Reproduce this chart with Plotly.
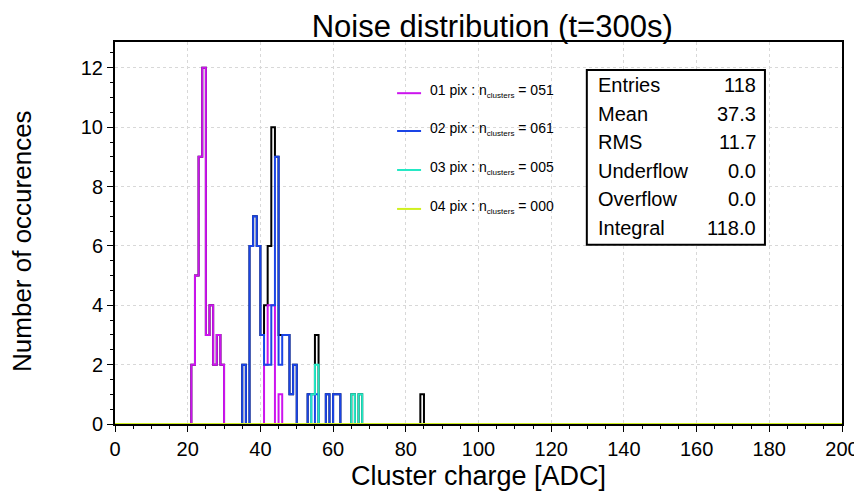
import numpy as np
import plotly.graph_objects as go

# histogram contents, bins of 1 ADC on [0, 200)
tot_bins = [21, 22, 23, 24, 25, 26, 27, 28, 29, 35, 37, 38, 39, 40, 41, 42, 43, 44, 45, 46, 47, 48, 49, 53, 54, 55, 58, 60, 61, 65, 67, 84]
tot_counts = [2, 5, 9, 12, 3, 4, 2, 3, 2, 2, 6, 7, 6, 3, 4, 6, 10, 9, 3, 3, 3, 1, 2, 1, 1, 3, 1, 1, 1, 1, 1, 1]

pix1_bins = [21, 22, 23, 24, 25, 26, 27, 28, 29, 41, 42, 43, 45]
pix1_counts = [2, 5, 9, 12, 3, 4, 2, 3, 2, 2, 4, 4, 1]

pix2_bins = [35, 37, 38, 39, 40, 41, 42, 43, 44, 45, 46, 47, 48, 49, 53, 55, 58, 60, 61]
pix2_counts = [2, 6, 7, 6, 3, 2, 2, 4, 9, 2, 3, 3, 1, 2, 1, 1, 1, 1, 1]

pix3_bins = [54, 55, 65, 67]
pix3_counts = [1, 2, 1, 1]

pix4_bins = []
pix4_counts = []

SUB = '<sub><span style="font-size:8px">clusters</span></sub>'
legend_labels = ["01 pix : n" + SUB + " = 051", "02 pix : n" + SUB + " = 061",
                 "03 pix : n" + SUB + " = 005", "04 pix : n" + SUB + " = 000"]
stat_names = ["Entries", "Mean", "RMS", "Underflow", "Overflow", "Integral"]
stat_values = ["118", "37.3", "11.7", "0.0", "0.0", "118.0"]

colors = ["#cc14ee", "#1a44e6", "#22e8c4", "#d0f020"]
FONT = "Liberation Sans, Arial, sans-serif"

edges = np.arange(0, 201)


def step_trace(bins, counts, color, width=2):
    h = np.zeros(200)
    for b, c in zip(bins, counts):
        h[b] = c
    y = np.append(h, h[-1])
    return go.Scatter(x=edges, y=y, mode="lines", line=dict(color=color, width=width, shape="hv"),
                      showlegend=False, hoverinfo="skip")


fig = go.Figure()
fig.add_trace(step_trace(tot_bins, tot_counts, "black"))
for (b, c), col in zip([(pix1_bins, pix1_counts), (pix2_bins, pix2_counts),
                        (pix3_bins, pix3_counts), (pix4_bins, pix4_counts)], colors):
    fig.add_trace(step_trace(b, c, col))

# legend drawn by hand, ROOT style
leg_y = [0.866, 0.767, 0.665, 0.563]
for lab, col, yy in zip(legend_labels, colors, leg_y):
    fig.add_shape(type="line", xref="paper", yref="paper", x0=0.388, x1=0.421, y0=yy, y1=yy,
                  line=dict(color=col, width=2))
    fig.add_annotation(xref="paper", yref="paper", x=0.431, y=yy + 0.006, text=lab, showarrow=False,
                       xanchor="left", yanchor="middle", font=dict(family=FONT, size=14, color="black"))

# stats box
fig.add_shape(type="rect", xref="paper", yref="paper", x0=0.649, x1=0.894, y0=0.469, y1=0.927,
              line=dict(color="black", width=2), fillcolor="white", layer="above")
for i, (n, v) in enumerate(zip(stat_names, stat_values)):
    yy = 0.887 - i * 0.0748
    fig.add_annotation(xref="paper", yref="paper", x=0.661, y=yy, text=n, showarrow=False,
                       xanchor="left", yanchor="middle", font=dict(family=FONT, size=20, color="black"))
    fig.add_annotation(xref="paper", yref="paper", x=0.884, y=yy, text=v, showarrow=False,
                       xanchor="right", yanchor="middle", font=dict(family=FONT, size=20, color="black"))

# axis titles
fig.add_annotation(xref="paper", yref="paper", x=0.5, y=-0.136, text="Cluster charge [ADC]", showarrow=False,
                   xanchor="center", yanchor="middle", font=dict(family=FONT, size=27, color="black"))
fig.add_annotation(xref="paper", yref="paper", x=-0.128, y=0.479, text="Number of occurences", showarrow=False,
                   textangle=-90, xanchor="center", yanchor="middle", font=dict(family=FONT, size=26, color="black"))

# page body adds an 8px margin, so the figure is sized to fit inside the window
fig.update_layout(
    width=854, height=484,
    margin=dict(l=107, r=20, t=34, b=68),
    paper_bgcolor="white", plot_bgcolor="white",
    font=dict(family=FONT, color="black"),
    title=dict(text="Noise distribution (t=300s)", x=0.567, xanchor="center", y=0.962, yanchor="middle",
               font=dict(family=FONT, size=31, color="black")),
)
fig.update_xaxes(range=[0, 200], dtick=20, tick0=0, showgrid=True, gridcolor="#d8d8d8", griddash="dot",
                 zeroline=False, showline=True, linecolor="black", linewidth=2, mirror=True, automargin=False,
                 ticks="outside", ticklen=6, tickcolor="black", tickfont=dict(size=20),
                 minor=dict(dtick=5, ticks="outside", ticklen=3, tickcolor="black", showgrid=False))
fig.update_yaxes(range=[0, 12.87], dtick=2, tick0=0, showgrid=True, gridcolor="#d8d8d8", griddash="dot",
                 zeroline=False, showline=True, linecolor="black", linewidth=2, mirror=True, automargin=False,
                 ticks="outside", ticklen=6, tickcolor="black", tickfont=dict(size=20),
                 minor=dict(dtick=0.5, ticks="outside", ticklen=3, tickcolor="black", showgrid=False))

fig.write_html("out.html")
